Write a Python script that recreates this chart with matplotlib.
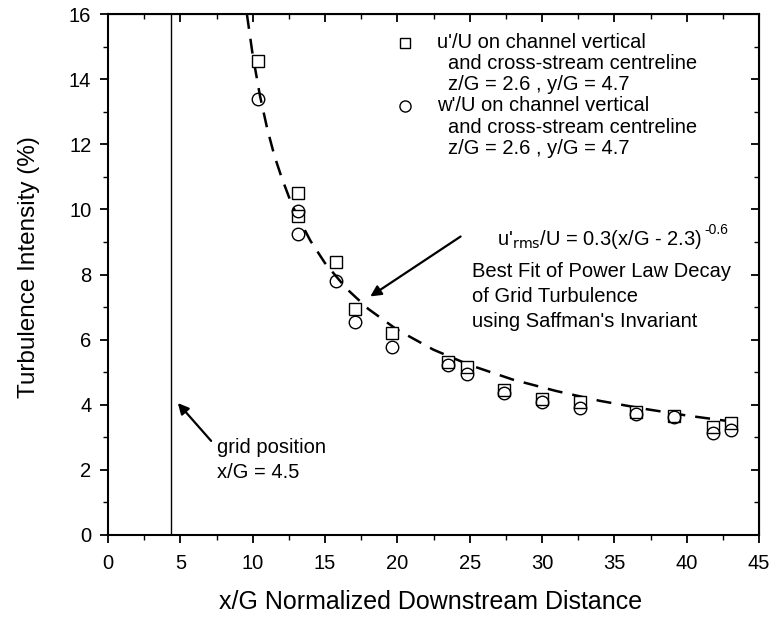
import matplotlib
matplotlib.use("Agg")
import matplotlib.pyplot as plt

plt.rcParams['font.family'] = ['Liberation Sans', 'DejaVu Sans']

# u'/U data (squares)
u_x = [10.4, 13.1, 13.1, 15.75, 17.05, 19.66, 23.5, 24.84, 27.4, 30.0, 32.6, 36.5, 39.15, 41.8, 43.06]
u_y = [14.56, 10.51, 9.80, 8.39, 6.93, 6.21, 5.32, 5.17, 4.45, 4.17, 4.09, 3.79, 3.65, 3.33, 3.45]
# w'/U data (circles)
w_x = [10.4, 13.1, 13.1, 15.75, 17.05, 19.66, 23.5, 24.84, 27.4, 30.0, 32.6, 36.5, 39.15, 41.8, 43.06]
w_y = [13.39, 9.95, 9.24, 7.80, 6.55, 5.78, 5.22, 4.94, 4.37, 4.09, 3.89, 3.71, 3.61, 3.12, 3.22]
# Fitted curve
fit_x = [9.6, 10.0, 10.5, 11.0, 11.5, 12.0, 12.5, 13.0, 14.0, 15.0, 16.5, 18.0, 20.0, 22.5, 25.0, 28.0, 31.0, 34.0, 37.0, 40.0, 43.5]
fit_y = [16.0, 14.75, 13.5, 12.49, 11.65, 10.98, 10.39, 9.87, 9.03, 8.35, 7.56, 6.94, 6.30, 5.69, 5.22, 4.77, 4.42, 4.12, 3.88, 3.67, 3.46]
grid_pos = 4.35

xticks = [0, 5, 10, 15, 20, 25, 30, 35, 40, 45]
yticks = [0, 2, 4, 6, 8, 10, 12, 14, 16]

fig = plt.figure(figsize=(7.71, 6.17), dpi=100)
ax = fig.add_axes([108/771, 1-535/617, (759-108)/771, (535-14)/617])

ax.plot(fit_x, fit_y, ls=(0, (6, 4)), color='black', lw=1.8, zorder=2)
ax.plot(u_x, u_y, ls='none', marker='s', ms=8, mfc='white', mec='black', mew=1.0, zorder=3)
ax.plot(w_x, w_y, ls='none', marker='o', ms=9, mfc='none', mec='black', mew=1.0, zorder=3)
ax.axvline(grid_pos, color='black', lw=1.0)

ax.set_xlim(0, 45)
ax.set_ylim(0, 16)
ax.set_xticks(xticks)
ax.set_yticks(yticks)
ax.set_xticks([2.5 + 5*i for i in range(9)], minor=True)
ax.set_yticks([1 + 2*i for i in range(8)], minor=True)
ax.tick_params(axis='both', which='major', direction='out', length=6, width=1.3, labelsize=14.5)
ax.tick_params(axis='x', which='major', pad=8)
ax.tick_params(axis='y', which='major', pad=6)
ax.tick_params(axis='both', which='minor', direction='out', length=3.5, width=1.0)
for s in ax.spines.values():
    s.set_linewidth(1.5)

# top / right inward ticks
axt = ax.secondary_xaxis('top')
axt.set_xticks(xticks)
axt.set_xticks([2.5 + 5*i for i in range(9)], minor=True)
axt.tick_params(which='major', direction='in', length=6, width=1.3, labeltop=False)
axt.tick_params(which='minor', direction='in', length=3.5, width=1.0)
axr = ax.secondary_yaxis('right')
axr.set_yticks(yticks)
axr.set_yticks([1 + 2*i for i in range(8)], minor=True)
axr.tick_params(which='major', direction='in', length=6, width=1.3, labelright=False)
axr.tick_params(which='minor', direction='in', length=3.5, width=1.0)

ax.set_xlabel('x/G Normalized Downstream Distance', fontsize=18)
ax.set_ylabel('Turbulence Intensity (%)', fontsize=17.5)
ax.xaxis.set_label_coords(0.495, -0.106)
ax.yaxis.set_label_coords(-0.104, 0.515)

fs = 14.5
def px(x, y):
    return ((x-108)/14.47, (535-y)/32.56)

# legend entries
ax.plot(*px(405, 43), marker='s', ms=7, mfc='white', mec='black', mew=1.0)
ax.plot(*px(405, 106), marker='o', ms=8, mfc='none', mec='black', mew=1.0)
leg_lines = [(437, 43, "u'/U on channel vertical"),
             (448, 64, "and cross-stream centreline"),
             (448, 85, "z/G = 2.6 , y/G = 4.7"),
             (437, 106, "w'/U on channel vertical"),
             (448, 128, "and cross-stream centreline"),
             (448, 149, "z/G = 2.6 , y/G = 4.7")]
for xp, yp, t in leg_lines:
    ax.text(*px(xp, yp), t, fontsize=fs, va='center', ha='left')

ft = ax.text(*px(497, 240), r"u'$_{\rm rms}$/U = 0.3(x/G - 2.3)", fontsize=fs, va='center', ha='left')
ax.annotate("-0.6", xy=(1.0, 0.62), xycoords=ft, xytext=(1.5, 0), textcoords='offset points',
            fontsize=10, va='bottom', ha='left')
for i, t in enumerate(["Best Fit of Power Law Decay", "of Grid Turbulence", "using Saffman's Invariant"]):
    ax.text(*px(472, 272 + 25*i), t, fontsize=fs, va='center', ha='left')

ax.annotate('', xy=px(368, 298), xytext=px(463, 235),
            arrowprops=dict(arrowstyle='-|>', color='black', lw=1.6, mutation_scale=16))
ax.annotate('', xy=px(176, 401), xytext=px(213, 443),
            arrowprops=dict(arrowstyle='-|>', color='black', lw=1.6, mutation_scale=16))
ax.text(*px(217, 448), "grid position", fontsize=fs, va='center', ha='left')
ax.text(*px(217, 473), "x/G = 4.5", fontsize=fs, va='center', ha='left')

fig.savefig('out.png', dpi=100)
